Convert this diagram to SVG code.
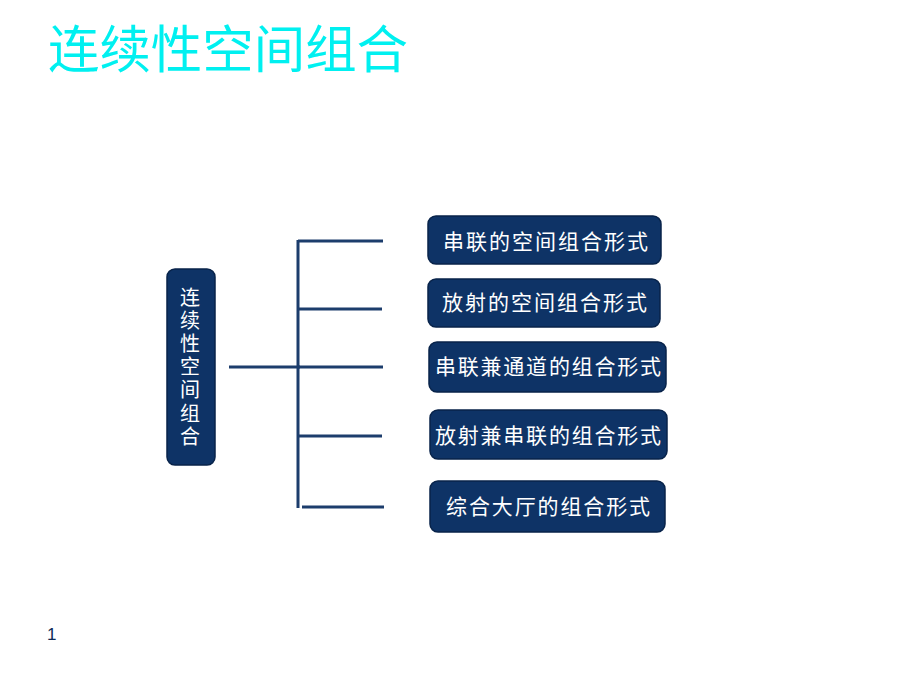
<svg xmlns="http://www.w3.org/2000/svg" width="920" height="690" viewBox="0 0 920 690">
<style>
.cjk{font-family:"Noto Sans CJK SC","Liberation Sans",sans-serif}
.box{fill:#0E3366;stroke:#08234A;stroke-width:1.5}
.bt{fill:#FFFFFF;font-size:21px;text-anchor:middle}
.ln{stroke:#1C3D6C;stroke-width:3;fill:none}
</style>
<rect width="920" height="690" fill="#FFFFFF"/>
<text class="cjk" x="48" y="68" font-size="51" fill="#00F0F0" textLength="360" lengthAdjust="spacingAndGlyphs">连续性空间组合</text>
<g id="connectors">
<line class="ln" x1="229" y1="367" x2="300" y2="367"/>
<line class="ln" x1="298" y1="240" x2="298" y2="508"/>
<line class="ln" x1="298" y1="241" x2="383" y2="241"/>
<line class="ln" x1="298" y1="309" x2="382" y2="309"/>
<line class="ln" x1="298" y1="367" x2="383" y2="367"/>
<line class="ln" x1="298" y1="436" x2="382" y2="436"/>
<line class="ln" x1="302" y1="507" x2="384" y2="507"/>
</g>
<g id="root">
<rect class="box" x="167" y="269" width="48" height="196" rx="8"/>
<text class="cjk" x="190" y="287" fill="#FFFFFF" font-size="20" writing-mode="vertical-rl" letter-spacing="3.2">连续性空间组合</text>
</g>
<g id="n1">
<rect class="box" x="428" y="216" width="233" height="48" rx="8"/>
<text class="cjk bt" x="545.5" y="248.5" textLength="205">串联的空间组合形式</text>
</g>
<g id="n2">
<rect class="box" x="428" y="279" width="232" height="48" rx="8"/>
<text class="cjk bt" x="544.5" y="310" textLength="205">放射的空间组合形式</text>
</g>
<g id="n3">
<rect class="box" x="429" y="342" width="237" height="50" rx="8"/>
<text class="cjk bt" x="548" y="374" textLength="226">串联兼通道的组合形式</text>
</g>
<g id="n4">
<rect class="box" x="430" y="410" width="237" height="49" rx="8"/>
<text class="cjk bt" x="548" y="443" textLength="226">放射兼串联的组合形式</text>
</g>
<g id="n5">
<rect class="box" x="430" y="481" width="235" height="51" rx="8"/>
<text class="cjk bt" x="548" y="514" textLength="204">综合大厅的组合形式</text>
</g>
<text x="47" y="640" font-family="Liberation Sans,sans-serif" font-size="17" fill="#0E2A55">1</text>
</svg>
